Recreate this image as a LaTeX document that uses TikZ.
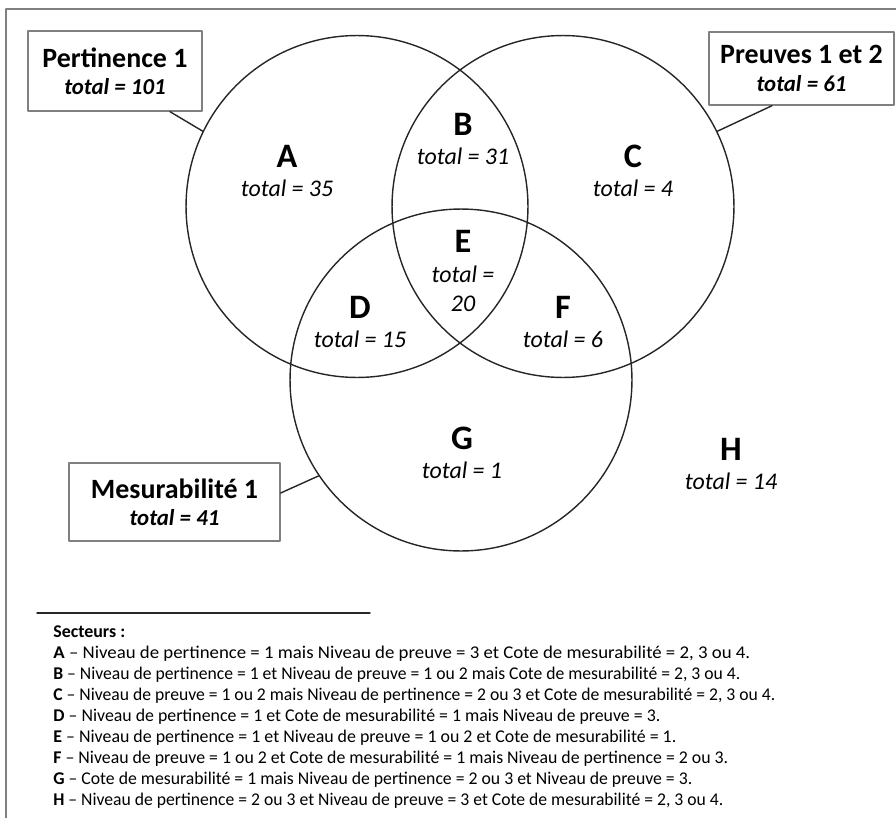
\documentclass[tikz,border=0pt]{standalone}
\usepackage{fontspec}
\setmainfont{Carlito}
\usepackage{graphicx}
\usepackage{tikz}
\usetikzlibrary{calc}

\newcommand{\boxfont}{\fontsize{15.9}{20}\selectfont\bfseries}
\newcommand{\boxtotal}{\fontsize{13}{17}\selectfont\bfseries\itshape}
\newcommand{\letfont}{\fontsize{19.5}{19}\selectfont\bfseries}
\newcommand{\totfont}{\fontsize{13.6}{17}\selectfont\itshape}
\newcommand{\legfont}{\fontsize{10.2}{12}\selectfont}
\newcommand{\secteur}[3]{\resizebox{#1}{\height}{\textbf{#2} -- #3}}

\begin{document}
\begin{tikzpicture}[x=0.02cm, y=-0.02cm, line cap=round, line join=round,
    setcircle/.style={circle, draw=black!85, line width=0.8pt, minimum size=6.84cm, inner sep=0pt, outer sep=0pt},
    setbox/.style={draw=black!50, line width=0.8pt, fill=white, align=center, inner sep=0pt},
    region/.style={align=center, inner sep=0pt},
    legline/.style={anchor=base west, inner sep=0pt, font=\legfont}]
            \useasboundingbox (0,0) rectangle (896,818);
            \draw[black!50, line width=0.8pt] (6,9) -- (896,9);
            \draw[black!50, line width=0.8pt] (6,9) -- (6,818);

            \node[setcircle] (pert) at (357,206.5) {};
            \node[setcircle] (preu) at (563,206.5) {};
            \node[setcircle] (mesu) at (461,380) {};

            \node[setbox, minimum width=3.48cm, minimum height=1.6cm] (pertbox) at (115,71)
                {\boxfont Pertinence 1\\[3.5pt]\boxtotal total = 101};
            \node[setbox, minimum width=3.7cm, minimum height=1.46cm] (preubox) at (801.5,68.5)
                {\boxfont Preuves 1 et 2\\[3.5pt]\boxtotal total = 61};
            \node[setbox, minimum width=4.22cm, minimum height=1.56cm] (mesubox) at (174.5,502)
                {\boxfont Mesurabilité 1\\[3.5pt]\boxtotal total = 41};

            \draw[black!85, line width=0.8pt] ($(pertbox.south)+(55,0)$) -- (pert.154);
            \draw[black!85, line width=0.8pt] ($(preubox.south)+(-29.5,0)$) -- (preu.26);
            \draw[black!85, line width=0.8pt] ($(mesubox.east)+(0,-9)$) -- (mesu.214);

            \node[region] (A) at (287,171) {\letfont A\\[4.5pt]\totfont total = 35};
            \node[region] (B) at (463,139) {\letfont B\\[4.5pt]\totfont total = 31};
            \node[region] (C) at (633,171) {\letfont C\\[4.5pt]\totfont total = 4};
            \node[region] (E) at (463,271) {\letfont E\\[5pt]\totfont total =\\[4.5pt]\totfont 20};
            \node[region] (D) at (360,322) {\letfont D\\[4.5pt]\totfont total = 15};
            \node[region] (F) at (563,322) {\letfont F\\[4.5pt]\totfont total = 6};
            \node[region] (G) at (462,453) {\letfont G\\[4.5pt]\totfont total = 1};
            \node[region] (H) at (731,464) {\letfont H\\[4.5pt]\totfont total = 14};

            \coordinate (rulestart) at (37,613);
            \coordinate (ruleend) at (370,613);
            \draw[black!85, line width=0.8pt] (rulestart) -- (ruleend);

            \node[legline] (sect) at (53,637) {\textbf{Secteurs :}};
            \node[legline] (secA) at (53,658) {\secteur{13.94cm}{A}{Niveau de pertinence = 1 mais Niveau de preuve = 3 et Cote de mesurabilité = 2, 3 ou 4.}};
            \node[legline] (secB) at (53,679) {\secteur{13.74cm}{B}{Niveau de pertinence = 1 et Niveau de preuve = 1 ou 2 mais Cote de mesurabilité = 2, 3 ou 4.}};
            \node[legline] (secC) at (53,700) {\secteur{14.44cm}{C}{Niveau de preuve = 1 ou 2 mais Niveau de pertinence = 2 ou 3 et Cote de mesurabilité = 2, 3 ou 4.}};
            \node[legline] (secD) at (53,721) {\secteur{12.14cm}{D}{Niveau de pertinence = 1 et Cote de mesurabilité = 1 mais Niveau de preuve = 3.}};
            \node[legline] (secE) at (53,742) {\secteur{12.46cm}{E}{Niveau de pertinence = 1 et Niveau de preuve = 1 ou 2 et Cote de mesurabilité = 1.}};
            \node[legline] (secF) at (53,763) {\secteur{13.5cm}{F}{Niveau de preuve = 1 ou 2 et Cote de mesurabilité = 1 mais Niveau de pertinence = 2 ou 3.}};
            \node[legline] (secG) at (53,784) {\secteur{12.78cm}{G}{Cote de mesurabilité = 1 mais Niveau de pertinence = 2 ou 3 et Niveau de preuve = 3.}};
            \node[legline] (secH) at (53,805) {\secteur{13.4cm}{H}{Niveau de pertinence = 2 ou 3 et Niveau de preuve = 3 et Cote de mesurabilité = 2, 3 ou 4.}};
        \end{tikzpicture}
\end{document}
